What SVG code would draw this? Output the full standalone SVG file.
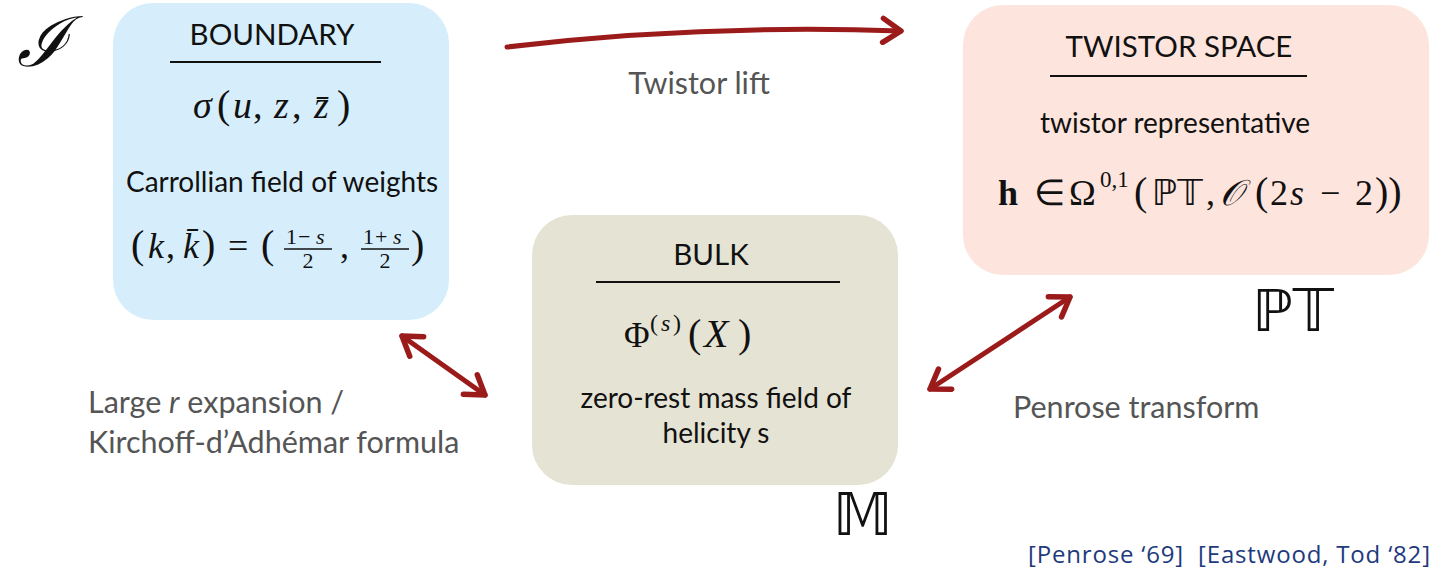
<svg xmlns="http://www.w3.org/2000/svg" width="1435" height="569" viewBox="0 0 1435 569">
<style>
.hd{font-family:Lato,"Open Sans",sans-serif;font-size:29.5px;fill:#111;text-anchor:middle}
.tx{font-family:Lato,"Open Sans",sans-serif;font-size:28px;fill:#111;text-anchor:middle}
.lbl{font-family:Lato,"Open Sans",sans-serif;font-size:30.5px;fill:#555}
.m{font-family:"Liberation Serif",serif;fill:#111}
.mi{font-style:italic}
.bb{font-family:"DejaVu Sans",sans-serif;fill:#111}
.rule{stroke:#111;stroke-width:2}
.conn{fill:none;stroke:#9b1b1b;stroke-width:5;stroke-linecap:round}
.ref{font-family:"Open Sans","DejaVu Sans",sans-serif;font-size:24px;fill:#1d3a7c}
</style>
<defs>
<marker id="ah" markerUnits="userSpaceOnUse" viewBox="-22 -15 27 30" markerWidth="27" markerHeight="30" refX="0" refY="0" orient="auto-start-reverse">
<path d="M-18,-12 L0,0 L-18,12" fill="none" stroke="#9b1b1b" stroke-width="5.5" stroke-linecap="round" stroke-linejoin="round"/>
</marker>
</defs>
<rect width="1435" height="569" fill="#ffffff"/>
<text x="17" y="66" font-family="DejaVu Serif,serif" font-style="italic" font-size="69" fill="#111">ℐ</text>

<g id="boundary">
<rect x="113" y="3" width="336" height="317" rx="40" fill="#d6eefb"/>
<text class="hd" x="272" y="45">BOUNDARY</text>
<line class="rule" x1="170" y1="62" x2="381" y2="62"/>
<text class="m" y="118" font-size="38"><tspan class="mi" x="193">σ</tspan><tspan x="217" font-size="40">(</tspan><tspan class="mi" x="233">u</tspan><tspan x="253">,</tspan><tspan class="mi" x="274">z</tspan><tspan x="292">,</tspan><tspan class="mi" x="314">z̄</tspan><tspan x="337" font-size="40">)</tspan></text>
<text class="tx" x="282" y="192">Carrollian field of weights</text>
<text class="m" y="258" font-size="36"><tspan x="131" font-size="40">(</tspan><tspan class="mi" x="148">k</tspan><tspan x="166">,</tspan><tspan class="mi" x="183">k̄</tspan><tspan x="202" font-size="40">)</tspan><tspan x="228">=</tspan><tspan x="261" font-size="40">(</tspan></text>
<text class="m" y="244" font-size="22"><tspan x="286">1</tspan><tspan x="298">−</tspan><tspan class="mi" x="316">s</tspan></text>
<line x1="284" y1="249" x2="332" y2="249" stroke="#111" stroke-width="1.6"/>
<text class="m" x="308" y="268" font-size="22" text-anchor="middle">2</text>
<text class="m" x="340" y="258" font-size="36">,</text>
<text class="m" y="244" font-size="22"><tspan x="363">1</tspan><tspan x="375">+</tspan><tspan class="mi" x="393">s</tspan></text>
<line x1="361" y1="249" x2="409" y2="249" stroke="#111" stroke-width="1.6"/>
<text class="m" x="385" y="268" font-size="22" text-anchor="middle">2</text>
<text class="m" x="411" y="258" font-size="40">)</text>
</g>

<g id="twistor">
<rect x="963" y="5" width="466" height="270" rx="40" fill="#fde4dc"/>
<text class="hd" x="1179" y="57">TWISTOR SPACE</text>
<line class="rule" x1="1050" y1="76" x2="1307" y2="76"/>
<text class="tx" x="1175" y="133">twistor representative</text>
<text class="m" y="205" font-size="36"><tspan x="998" font-weight="bold">h</tspan><tspan x="1034">∈</tspan><tspan x="1069">Ω</tspan><tspan x="1100" y="187" font-size="23">0,1</tspan><tspan x="1134" y="205" font-size="40">(</tspan><tspan class="bb" x="1152" font-size="36">ℙ𝕋</tspan><tspan x="1206">,</tspan><tspan class="mi" x="1220">𝒪</tspan><tspan x="1255" font-size="40">(</tspan><tspan x="1270">2</tspan><tspan class="mi" x="1290">s</tspan><tspan x="1320">−</tspan><tspan x="1355">2</tspan><tspan x="1375" font-size="40">))</tspan></text>
<text class="bb" x="1252" y="331" font-size="58">ℙ𝕋</text>
</g>

<g id="bulk">
<rect x="532" y="215" width="366" height="270" rx="40" fill="#e5e3d3"/>
<text class="hd" x="711" y="265">BULK</text>
<line class="rule" x1="596" y1="282" x2="840" y2="282"/>
<text class="m" y="347" font-size="35"><tspan x="624">Φ</tspan><tspan x="650" y="331" font-size="24">(</tspan><tspan class="mi" x="661" font-size="24">s</tspan><tspan x="673" font-size="24">)</tspan><tspan x="688" y="347" font-size="40">(</tspan><tspan class="mi" x="704" font-size="40">X</tspan><tspan x="738" font-size="40">)</tspan></text>
<text class="tx" x="716" y="408">zero-rest mass field of</text>
<text class="tx" x="716" y="443">helicity s</text>
<text class="bb" x="833" y="535" font-size="58">𝕄</text>
</g>

<g id="connectors">
<path class="conn" d="M507,47 Q700,24 901,31" marker-end="url(#ah)"/>
<path class="conn" d="M402,336 L485,395" marker-start="url(#ah)" marker-end="url(#ah)"/>
<path class="conn" d="M1070,297 L930,389" marker-start="url(#ah)" marker-end="url(#ah)"/>
</g>

<g id="labels">
<text class="lbl" x="699" y="94" text-anchor="middle">Twistor lift</text>
<text class="lbl" x="88" y="413">Large <tspan font-style="italic">r</tspan> expansion /</text>
<text class="lbl" x="88" y="453">Kirchoff-d’Adhémar formula</text>
<text class="lbl" x="1013" y="418">Penrose transform</text>
<text class="ref" x="1028" y="563" xml:space="preserve" textLength="402" lengthAdjust="spacing">[Penrose ‘69]  [Eastwood, Tod ‘82]</text>
</g>
</svg>
